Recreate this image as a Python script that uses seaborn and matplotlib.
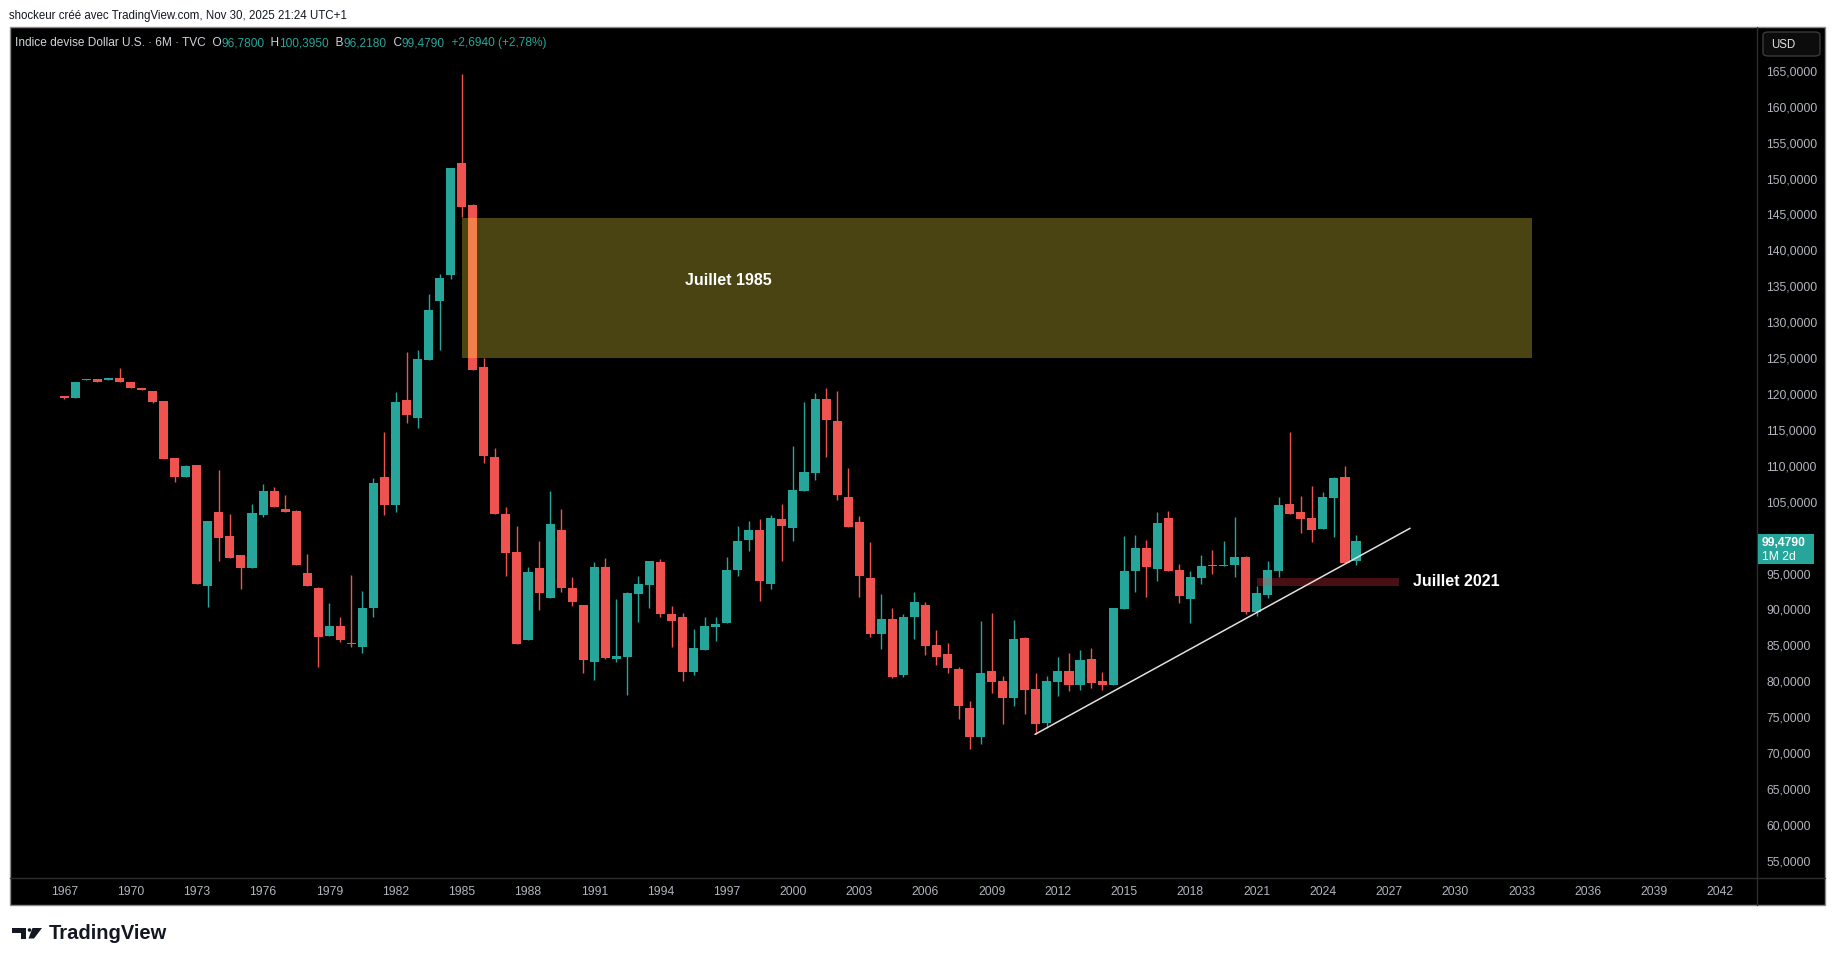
import matplotlib
matplotlib.use("Agg")
import matplotlib.pyplot as plt
import matplotlib.patches as mpatches
from matplotlib.lines import Line2D
import numpy as np
import pandas as pd
import seaborn as sns

# ---------------- data (semi-annual candles, 1967H1 .. 2025H2) ----------------
start_year = 1967.0
opens = [119.7, 119.5, 121.9, 122.1, 121.9, 122.2, 121.7, 120.8, 120.4, 119.0,
         111.1, 108.4, 110.1, 93.2, 103.6, 100.2, 97.6, 95.8, 103.2, 106.5,
         104.0, 103.7, 95.1, 93.0, 86.3, 87.7, 85.3, 84.8, 90.2, 108.5,
         104.5, 119.2, 116.7, 124.8, 133.0, 136.5, 152.2, 146.3, 123.8, 111.2,
         103.3, 98.0, 85.7, 95.8, 91.6, 101.1, 93.0, 90.6, 82.7, 95.9,
         83.1, 83.4, 92.2, 93.4, 96.6, 89.4, 89.0, 81.3, 84.4, 87.6,
         88.1, 95.5, 99.7, 101.1, 93.6, 102.6, 101.4, 106.5, 109.0, 119.3,
         116.2, 105.7, 102.2, 94.4, 86.6, 88.7, 80.8, 88.9, 90.6, 85.1,
         83.8, 81.7, 76.3, 72.3, 81.4, 80.0, 77.6, 86.0, 78.9, 74.2,
         79.9, 81.4, 79.5, 83.1, 80.0, 79.5, 90.1, 95.4, 98.6, 95.6,
         102.7, 95.5, 91.5, 94.4, 96.1, 96.1, 96.2, 97.3, 89.6, 92.0,
         95.4, 104.7, 103.6, 102.7, 101.2, 105.5, 108.5, 96.78]
highs = [119.7, 121.7, 122.1, 122.1, 122.2, 123.6, 121.7, 120.8, 120.4, 119.0,
         111.1, 110.1, 110.1, 102.3, 109.4, 103.3, 97.6, 104.7, 107.5, 107.0,
         105.9, 103.9, 97.7, 93.1, 90.9, 88.9, 94.8, 92.6, 108.3, 114.7,
         120.3, 125.9, 126.1, 133.9, 136.7, 151.4, 164.6, 146.5, 125.0, 112.5,
         104.2, 101.6, 95.9, 99.5, 106.5, 104.0, 94.5, 90.6, 96.6, 97.2,
         91.5, 92.4, 94.7, 96.8, 97.0, 90.5, 89.5, 87.3, 89.0, 89.0,
         97.3, 101.6, 102.3, 102.6, 103.2, 104.7, 112.8, 118.9, 120.1, 120.8,
         120.4, 109.7, 103.0, 99.4, 92.2, 90.2, 89.4, 92.4, 91.0, 87.1,
         85.3, 82.0, 77.2, 88.4, 89.5, 80.7, 88.5, 86.2, 81.2, 80.7,
         83.4, 83.9, 84.4, 84.6, 81.3, 90.2, 100.2, 100.4, 99.7, 103.6,
         103.7, 96.3, 95.4, 97.6, 98.3, 99.5, 102.9, 97.5, 93.3, 96.8,
         105.7, 114.7, 105.8, 107.2, 106.4, 108.5, 110.0, 100.395]
lows = [119.3, 119.5, 121.9, 121.7, 121.9, 121.6, 120.8, 120.5, 118.8, 111.0,
        107.7, 108.4, 93.6, 90.4, 96.8, 97.1, 92.8, 95.8, 102.8, 104.3,
        103.6, 96.2, 93.3, 82.0, 86.3, 85.4, 84.7, 84.0, 88.9, 103.1,
        103.5, 116.0, 115.3, 124.8, 126.1, 136.0, 144.7, 123.3, 110.4, 103.3,
        94.7, 85.2, 85.7, 89.9, 91.6, 92.4, 90.5, 81.2, 80.2, 83.1,
        82.7, 78.1, 88.3, 90.2, 89.0, 84.8, 80.0, 80.9, 84.4, 85.6,
        88.1, 94.7, 98.2, 91.2, 92.9, 96.8, 99.5, 106.5, 108.0, 111.2,
        105.2, 101.5, 91.7, 86.2, 84.5, 80.4, 80.6, 85.9, 83.6, 82.2,
        81.2, 74.7, 70.6, 71.2, 78.3, 74.1, 76.5, 75.5, 72.7, 73.5,
        78.0, 78.6, 78.8, 79.0, 78.8, 79.5, 90.1, 92.4, 91.7, 94.0,
        95.4, 90.9, 88.1, 93.5, 94.9, 96.0, 94.5, 89.4, 89.1, 91.6,
        94.5, 103.3, 100.7, 99.4, 101.2, 100.1, 96.4, 96.218]
closes = [119.4, 121.7, 122.1, 121.7, 122.2, 121.6, 120.8, 120.5, 118.9, 111.0,
          108.4, 110.0, 93.6, 102.3, 100.0, 97.1, 95.7, 103.4, 106.5, 104.3,
          103.6, 96.2, 93.3, 86.2, 87.7, 85.7, 85.2, 90.2, 107.6, 104.5,
          118.9, 117.1, 124.9, 131.7, 136.2, 151.4, 146.0, 123.3, 111.4, 103.3,
          97.9, 85.2, 95.2, 92.3, 101.9, 93.0, 91.0, 82.9, 95.9, 83.3,
          83.5, 92.3, 93.6, 96.8, 89.4, 88.4, 81.3, 84.6, 87.7, 88.0,
          95.5, 99.5, 101.1, 94.0, 102.7, 101.6, 106.6, 109.1, 119.3, 116.4,
          105.9, 101.5, 94.6, 86.6, 88.7, 80.6, 88.9, 91.0, 84.9, 83.4,
          81.8, 76.5, 72.3, 81.2, 79.9, 77.6, 85.9, 78.8, 74.1, 80.0,
          81.4, 79.5, 83.0, 79.8, 79.5, 90.2, 95.4, 98.6, 95.9, 102.0,
          95.4, 91.9, 94.5, 96.0, 96.0, 96.2, 97.3, 89.6, 92.3, 95.5,
          104.6, 103.3, 102.6, 101.1, 105.7, 108.3, 96.5, 99.479]

year_ticks = list(range(1967, 2043, 3))
price_ticks = list(range(55, 170, 5))
hidden_price_ticks = [100]  # covered by the last-price label

# annotations
zone_1985 = dict(x0=1985.0, x1=2033.45, y0=125.07, y1=144.5, label="Juillet 1985",
                 lx=1995.1, ly=135.75)
zone_2021 = dict(x0=2021.0, x1=2027.45, y0=93.32, y1=94.4, label="Juillet 2021",
                 lx=2028.07, ly=93.83)
trend_x = [2010.96, 2027.95]
trend_y = [72.6, 101.3]

header_text = "shockeur créé avec TradingView.com, Nov 30, 2025 21:24 UTC+1"
legend_parts = [("Indice devise Dollar U.S. · 6M · TVC", "#d1d4dc"),
                ("  O", "#d1d4dc"), ("96,7800", "#26a69a"),
                ("  H", "#d1d4dc"), ("100,3950", "#26a69a"),
                ("  B", "#d1d4dc"), ("96,2180", "#26a69a"),
                ("  C", "#d1d4dc"), ("99,4790", "#26a69a"),
                ("  +2,6940 (+2,78%)", "#26a69a")]
last_price_label = "99,4790"
countdown_label = "1M 2d"

# ---------------- style ----------------
sns.set_theme(style="dark")
plt.rcParams['font.family'] = ['Liberation Sans', 'DejaVu Sans']

UP = "#26a69a"
DOWN = "#ef5350"
W, H = 1835, 966

df = pd.DataFrame({"open": opens, "high": highs, "low": lows, "close": closes})
df["t"] = start_year + 0.5 * np.arange(len(df))
df["up"] = df["close"] >= df["open"]
df["color"] = np.where(df["up"], UP, DOWN)

fig = plt.figure(figsize=(W / 100, H / 100), dpi=100, facecolor="white")


def fx(x):
    return x / W


def fy(y):
    return 1 - y / H


# chart frame
fig.patches.append(mpatches.Rectangle((fx(10), fy(905)), fx(1825) - fx(10), fy(27) - fy(905),
                                      transform=fig.transFigure, facecolor="black",
                                      edgecolor="#8a8a8a", linewidth=1.0, zorder=-10))
fig.lines.append(Line2D([fx(1757), fx(1757)], [fy(27), fy(905)], transform=fig.transFigure,
                        color="#2e2e2e", linewidth=1.0, zorder=-5))
fig.lines.append(Line2D([fx(10), fx(1825)], [fy(878), fy(878)], transform=fig.transFigure,
                        color="#2e2e2e", linewidth=1.0, zorder=-5))

ax = fig.add_axes([fx(10), fy(878), fx(1757) - fx(10), fy(27) - fy(878)])
ax.set_facecolor("none")
for s in ax.spines.values():
    s.set_visible(False)
ax.grid(False)
ax.set_xlim(1964.54, 2043.66)
ax.set_ylim(52.6, 171.1)

# wicks
ax.vlines(df["t"], df["low"], df["high"], colors=df["color"], linewidth=1.0, zorder=2)
# bodies
body_bottom = np.minimum(df["open"], df["close"])
body_h = np.maximum(np.abs(df["close"] - df["open"]), 0.15)
ax.bar(df["t"], body_h, bottom=body_bottom, width=0.41, color=df["color"],
       linewidth=0, zorder=3)

# zones
ax.add_patch(mpatches.Rectangle((zone_1985["x0"], zone_1985["y0"]),
                                zone_1985["x1"] - zone_1985["x0"], zone_1985["y1"] - zone_1985["y0"],
                                facecolor="#ffeb3b", alpha=0.29, linewidth=0, zorder=4))
ax.text(zone_1985["lx"], zone_1985["ly"], zone_1985["label"], color="white", fontsize=11.5,
        fontweight="bold", ha="left", va="center", zorder=6)
ax.add_patch(mpatches.Rectangle((zone_2021["x0"], zone_2021["y0"]),
                                zone_2021["x1"] - zone_2021["x0"], zone_2021["y1"] - zone_2021["y0"],
                                facecolor="#f23645", alpha=0.3, linewidth=0, zorder=4))
ax.text(zone_2021["lx"], zone_2021["ly"], zone_2021["label"], color="white", fontsize=11.5,
        fontweight="bold", ha="left", va="center", zorder=6)

# trend line
sns.lineplot(x=trend_x, y=trend_y, ax=ax, color="#e0e0e0", linewidth=1.1, zorder=5)

# axes ticks
ax.yaxis.tick_right()
ax.set_yticks(price_ticks)
ax.set_yticklabels(["" if v in hidden_price_ticks else f"{v:.4f}".replace(".", ",")
                    for v in price_ticks])
ax.set_xticks(year_ticks)
ax.set_xticklabels([str(y) for y in year_ticks])
ax.tick_params(axis="y", length=0, pad=6.5, labelsize=8.7, labelcolor="#b2b5be")
ax.tick_params(axis="x", length=0, pad=5.5, labelsize=8.7, labelcolor="#b2b5be")

# header texts
fig.text(fx(9), fy(16), header_text, fontsize=8.3, color="#131722", ha="left", va="center")

fig.canvas.draw()
renderer = fig.canvas.get_renderer()
xpos = 15
for txt, col in legend_parts:
    t = fig.text(fx(xpos), fy(43), txt, fontsize=8.6, color=col, ha="left", va="center")
    bb = t.get_window_extent(renderer=renderer)
    xpos += bb.width

# USD box
fig.patches.append(mpatches.FancyBboxPatch((fx(1763), fy(56)), fx(1820) - fx(1763), fy(32) - fy(56),
                                           boxstyle="round,pad=0,rounding_size=0.003",
                                           transform=fig.transFigure, facecolor="#0c0c0c",
                                           edgecolor="#3a3a3a", linewidth=1.0, zorder=5))
fig.text(fx(1771), fy(45), "USD", fontsize=8.3, color="#e0e0e0", ha="left", va="center", zorder=6)

# last price label
fig.patches.append(mpatches.Rectangle((fx(1758), fy(564)), fx(1814) - fx(1758), fy(534) - fy(564),
                                      transform=fig.transFigure, facecolor=UP, linewidth=0, zorder=5))
fig.text(fx(1762), fy(543), last_price_label, fontsize=8.7, fontweight="bold", color="white",
         ha="left", va="center", zorder=6)
fig.text(fx(1762), fy(557), countdown_label, fontsize=8.7, color="white", ha="left", va="center", zorder=6)

# TradingView logo
logo_col = "#131722"
fig.patches.append(mpatches.Polygon([(fx(12), fy(928)), (fx(26), fy(928)), (fx(26), fy(938.5)),
                                     (fx(20.5), fy(938.5)), (fx(20.5), fy(932.5)), (fx(12), fy(932.5))],
                                    closed=True, transform=fig.transFigure, facecolor=logo_col,
                                    linewidth=0))
fig.patches.append(mpatches.Ellipse((fx(29.5), fy(930)), fx(3.6), 3.6 / H, transform=fig.transFigure,
                                    facecolor=logo_col, linewidth=0))
fig.patches.append(mpatches.Polygon([(fx(32.5), fy(928)), (fx(42), fy(928)), (fx(34), fy(938.5)),
                                     (fx(28.5), fy(938.5))],
                                    closed=True, transform=fig.transFigure, facecolor=logo_col,
                                    linewidth=0))
fig.text(fx(49), fy(939), "TradingView", fontsize=14.5, fontweight="bold", color=logo_col,
         ha="left", va="baseline")

fig.savefig("out.png", dpi=100, facecolor="white")
